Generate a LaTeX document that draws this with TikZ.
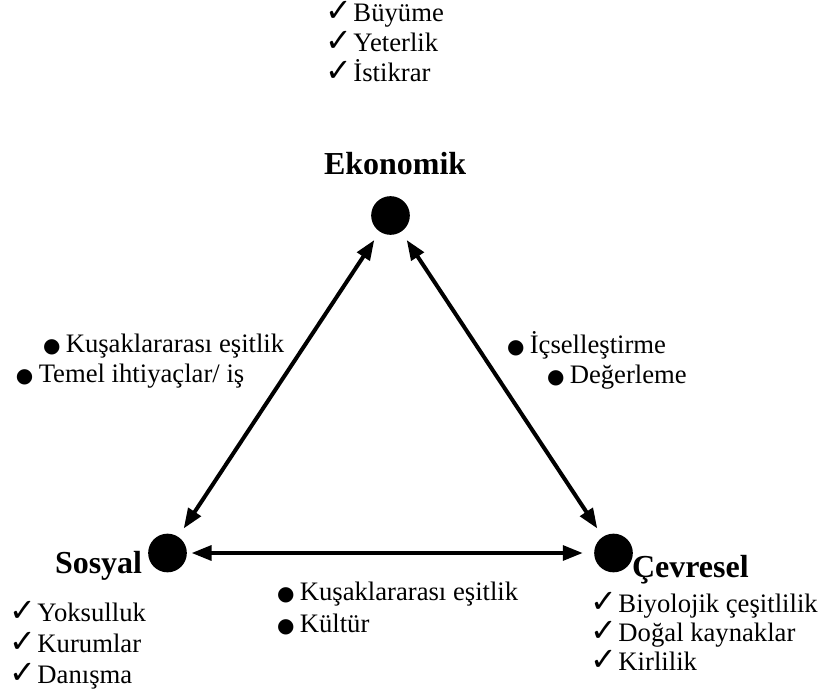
\documentclass[tikz,border=0pt]{standalone}
\usepackage{fontspec}
\setmainfont{Liberation Serif}
\newfontfamily\symfont{DejaVu Sans}
\usetikzlibrary{arrows.meta}
\newcommand{\chk}{\kern-3.5pt\smash{\symfont\fontsize{24}{24}\selectfont ✓}\kern-4pt}
\newcommand{\blt}{{\symfont\fontsize{15}{15}\selectfont ●}\kern-1pt}
\tikzset{every picture/.style={line width=3pt}}
\tikzset{
  dot/.style={circle, fill, inner sep=0pt, minimum size=29pt},
  pole/.style={font=\fontsize{24}{28}\selectfont\bfseries, inner sep=0pt, anchor=base west},
  lst/.style={font=\fontsize{20}{22.5}\selectfont, inner sep=0pt, align=left, anchor=base west},
  arr/.style={{Triangle[length=15pt,width=11pt]}-{Triangle[length=15pt,width=11pt]}, shorten <=6pt, shorten >=6pt}
}

\begin{document}
\begin{tikzpicture}[x=0.75pt,y=-0.75pt]
  \useasboundingbox (0,0) rectangle (823,695);
  % the three poles
  \node[dot] (eko) at (390.5,215.5) {};
  \node[dot] (sos) at (167.5,553) {};
  \node[dot] (cev) at (613.5,553) {};
  \node[pole] (ekoname) at (322,175) {Ekonomik};
  \node[pole] (sosname) at (53,573) {Sosyal};
  \node[pole] (cevname) at (630,577) {Çevresel};
  % lists (base anchor = last line)
  \node[lst] (ekolist) at (328,82) {\chk{} Büyüme\\\chk{} Yeterlik\\\chk{} İstikrar};
  \node[lst, font=\fontsize{20}{23.2}\selectfont] (soslist) at (12,683) {\chk{} Yoksulluk\\\chk{} Kurumlar\\\chk{} Danışma};
  \node[lst, font=\fontsize{20}{21.5}\selectfont] (cevlist) at (593,670) {\chk{} Biyolojik çeşitlilik\\\chk{} Doğal kaynaklar\\\chk{} Kirlilik};
  % links
  \draw[arr] (eko) -- (sos);
  \draw[arr] (eko) -- (cev);
  \draw[arr, shorten <=2pt, shorten >=7pt] (sos) -- (cev);
  \node[lst] (es1) at (41,352) {\blt{} Kuşaklararası eşitlik};
  \node[lst] (es2) at (14,382) {\blt{} Temel ihtiyaçlar/ iş};
  \node[lst] (ec1) at (505,353) {\blt{} İçselleştirme};
  \node[lst] (ec2) at (545,383) {\blt{} Değerleme};
  \node[lst, font=\fontsize{20}{24}\selectfont] (sc) at (275,632) {\blt{} Kuşaklararası eşitlik\\\blt{} Kültür};
\end{tikzpicture}
\end{document}
